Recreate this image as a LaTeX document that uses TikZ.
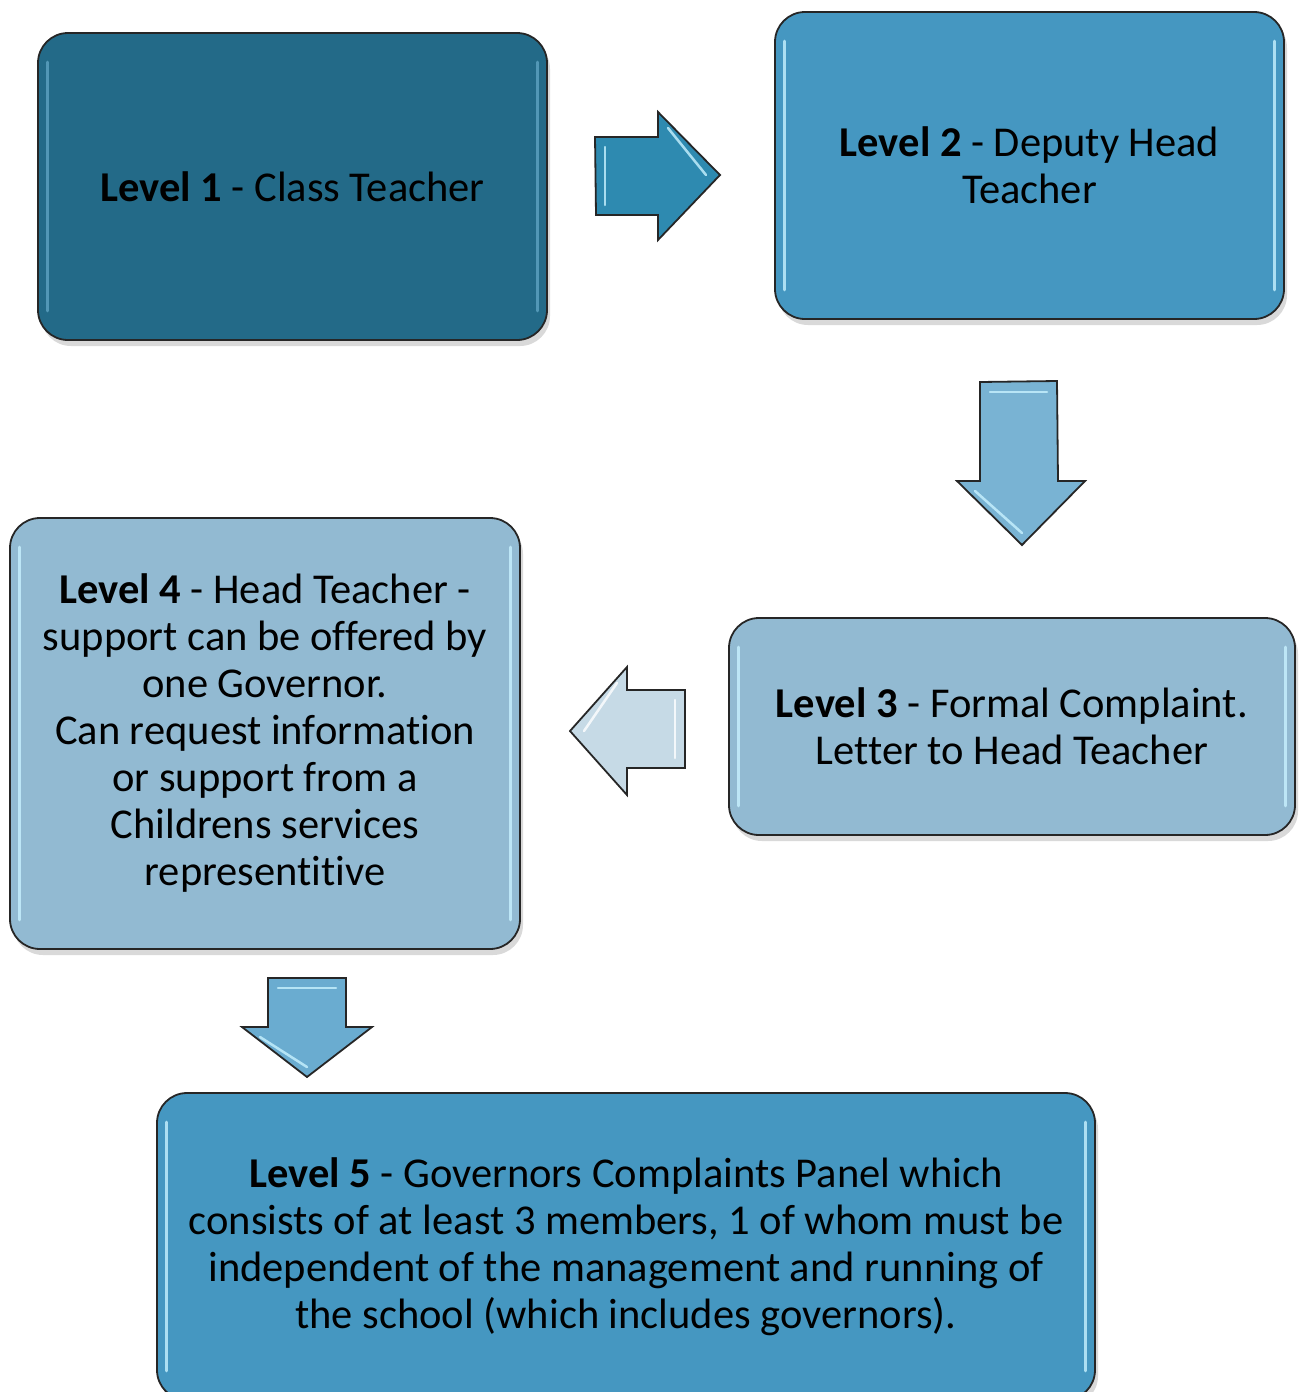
\documentclass[tikz,border=0pt]{standalone}
\usepackage{fontspec}
\setmainfont{Carlito}[RawFeature={-liga}]
\usetikzlibrary{shadows}
\definecolor{cA}{HTML}{236A88}
\definecolor{cB}{HTML}{4597C1}
\definecolor{cC}{HTML}{92BAD2}
\definecolor{arA}{HTML}{2E8AB0}
\definecolor{arB}{HTML}{79B3D3}
\definecolor{arC}{HTML}{C6DAE6}
\definecolor{arD}{HTML}{6AACD0}
\definecolor{hiA}{HTML}{5EA3C2}
\definecolor{hiB}{HTML}{C8F2FF}
\tikzset{
  lvl/.style={draw=black!85, line width=1.8pt, rounded corners=30pt, align=center,
    font=\fontsize{42.5}{47}\selectfont, inner sep=0pt,
    drop shadow={shadow xshift=3pt, shadow yshift=-6pt, opacity=0.3}},
  bevel/.style={line width=3pt, line cap=round, opacity=0.8},
  blockarrow/.style={draw=black!85, line width=1.8pt, line join=miter},
}
\begin{document}
\begin{tikzpicture}[x=1pt,y=-1pt]
\useasboundingbox (0,0) rectangle (1299,1392);
\begin{scope}
\clip (0,0) rectangle (1299,1392);
% boxes
\node[lvl, fill=cA, minimum width=509pt, minimum height=307pt] (l1) at (292.5,186.5)
  {\textbf{Level 1} - Class Teacher};
\node[lvl, fill=cB, minimum width=509pt, minimum height=307pt] (l2) at (1029.5,165.5)
  {\textbf{Level 2} - Deputy Head\\Teacher};
\node[lvl, fill=cC, minimum width=566pt, minimum height=217pt] (l3) at (1012,726.5)
  {\textbf{Level 3} - Formal Complaint.\\Letter to Head Teacher};
\node[lvl, fill=cC, minimum width=510pt, minimum height=431pt] (l4) at (265,733.5)
  {\textbf{Level 4} - Head Teacher -\\support can be offered by\\one Governor.\\Can request information\\or support from a\\Childrens services\\representitive};
\node[lvl, fill=cB, minimum width=938pt, minimum height=307pt] (l5) at (626,1246.5)
  {\textbf{Level 5} - Governors Complaints Panel which\\consists of at least 3 members, 1 of whom must be\\independent of the management and running of\\the school (which includes governors).};
% bevel highlights
\foreach \n/\c in {l1/hiA,l2/hiB,l3/hiB,l4/hiB,l5/hiB}{
  \draw[bevel, draw=\c] ([xshift=10pt,yshift=-30pt]\n.north west) -- ([xshift=10pt,yshift=30pt]\n.south west);
  \draw[bevel, draw=\c] ([xshift=-10pt,yshift=-30pt]\n.north east) -- ([xshift=-10pt,yshift=30pt]\n.south east);
}
% block arrows
\draw[blockarrow, fill=arA] (595,137) -- (658,137) -- (658,112) -- (720,175) -- (658,240) -- (658,215) -- (596,215) -- cycle;
\draw[bevel, draw=hiB, line width=2.5pt] (605,147) -- (605,205);
\draw[bevel, draw=hiB, line width=2.5pt] (668,128) -- (706,175);
\draw[blockarrow, fill=arB] (980,382) -- (1057,381) -- (1058,481) -- (1085,481) -- (1022,545) -- (957,481) -- (980,481) -- cycle;
\draw[bevel, draw=hiB, line width=2.5pt] (990,392) -- (1047,392);
\draw[bevel, draw=hiB, line width=2.5pt] (975,491) -- (1022,533);
\draw[blockarrow, fill=arC] (685,690) -- (627,690) -- (627,667) -- (570,731) -- (627,795) -- (627,768) -- (685,768) -- cycle;
\draw[bevel, draw=white, line width=2.5pt] (675,700) -- (675,758);
\draw[bevel, draw=white, line width=2.5pt] (617,683) -- (584,731);
\draw[blockarrow, fill=arD] (268,978) -- (346,978) -- (346,1027) -- (372,1027) -- (307,1077) -- (242,1027) -- (268,1027) -- cycle;
\draw[bevel, draw=hiB, line width=2.5pt] (278,988) -- (336,988);
\draw[bevel, draw=hiB, line width=2.5pt] (260,1037) -- (307,1067);
\end{scope}
\end{tikzpicture}
\end{document}
